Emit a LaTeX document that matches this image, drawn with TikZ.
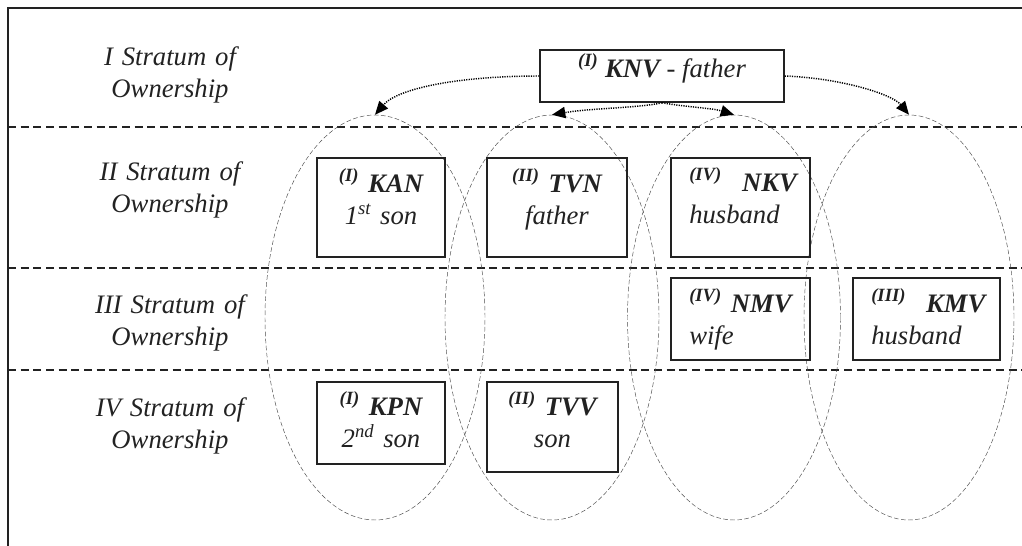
\documentclass[tikz,border=0pt]{standalone}
\usepackage{fontspec}
\setmainfont{Liberation Serif}
\usetikzlibrary{shapes.geometric,arrows.meta}
\definecolor{ink}{HTML}{222222}
\newcommand\supx[1]{\textsuperscript{\bfseries #1}}
\newcommand\supn[1]{\textsuperscript{#1}}
\begin{document}
\begin{tikzpicture}[x=0.75pt,y=-0.75pt,
  frame/.style={draw=ink,line width=1.1pt},
  stratum/.style={draw=ink,line width=0.95pt,dash pattern=on 6pt off 3.5pt},
  oval/.style={ellipse,draw=black!70,line width=0.35pt,dash pattern=on 3.5pt off 1.8pt,inner sep=0pt,minimum height=303.75pt},
  box/.style={draw=ink,line width=1.1pt,inner sep=0pt},
  txt/.style={font=\fontsize{20}{24.4}\selectfont\itshape,text=ink,inner sep=0pt},
  ctxt/.style={txt,anchor=base,align=center},
  ltxt/.style={txt,anchor=base west,align=left,text width=100pt},
  link/.style={draw=black,line width=1.1pt,dash pattern=on 0.9pt off 0.9pt,
    -{Triangle[length=10pt,width=8.5pt]}}]
\useasboundingbox (0,0) rectangle (1022,546);
% frame
\draw[frame] (8,546) -- (8,8) -- (1022,8);
% strata separators
\draw[stratum] (8,127) -- (1022,127);
\draw[stratum] (8,268) -- (1022,268);
\draw[stratum] (8,370) -- (1022,370);
% ellipses
\node[oval,minimum width=165pt] (e1) at (375,317.5) {};
\node[oval,minimum width=160.5pt] (e2) at (552,317.5) {};
\node[oval,minimum width=159.75pt] (e3) at (734,317.5) {};
\node[oval,minimum width=157.5pt] (e4) at (909,317.5) {};
% stratum labels
\node[ctxt,text width=150pt] (l1) at (170,65) {I Stratum of\\Ownership};
\node[ctxt,text width=150pt] (l2) at (170,180) {II Stratum of\\Ownership};
\node[ctxt,text width=150pt] (l3) at (170,313) {III Stratum of\\Ownership};
\node[ctxt,text width=150pt] (l4) at (170,416) {IV Stratum of\\Ownership};
% boxes
\node[box,minimum width=183pt,minimum height=39pt] (knv) at (662,76) {};
\node[box,minimum width=96pt,minimum height=74.25pt] (kan) at (381,207.5) {};
\node[box,minimum width=105pt,minimum height=74.25pt] (tvn) at (557,207.5) {};
\node[box,minimum width=104.25pt,minimum height=74.25pt] (nkv) at (740.5,207.5) {};
\node[box,minimum width=104.25pt,minimum height=61.5pt] (nmv) at (740.5,319) {};
\node[box,minimum width=110.25pt,minimum height=61.5pt] (kmv) at (926.5,319) {};
\node[box,minimum width=96pt,minimum height=61.5pt] (kpn) at (381,423) {};
\node[box,minimum width=98.25pt,minimum height=67.5pt] (tvv) at (552.5,427) {};
% box texts
\node[txt,anchor=base] (knvt) at (662,77) {\supx{(I)} \textbf{KNV} - father};
\node[ctxt,text width=96pt] (kant) at (381,192) {\supx{(I)} \textbf{KAN}\\1\supn{st} son};
\node[ctxt,text width=105pt] (tvnt) at (557,192) {\supx{(II)} \textbf{TVN}\\father};
\node[ltxt] (nkvt) at (689,191) {\supx{(IV)}\hspace{0.75em}\textbf{NKV}\\husband};
\node[ltxt] (nmvt) at (689,312) {\supx{(IV)} \textbf{NMV}\\wife};
\node[ltxt] (kmvt) at (871,312) {\supx{(III)}\hspace{0.75em}\textbf{KMV}\\husband};
\node[ctxt,text width=96pt] (kpnt) at (381,415) {\supx{(I)} \textbf{KPN}\\2\supn{nd} son};
\node[ctxt,text width=98pt] (tvvt) at (552.5,415) {\supx{(II)} \textbf{TVV}\\son};
% links
\draw[link] (knv.west) .. controls (460,76) and (398,88) .. (e1.north);
\draw[link] (knv.east) .. controls (840,78) and (892,94) .. (e4.north);
\draw[link] (knv.south) .. controls (640,108) and (592,108) .. (e2.north);
\draw[link] (knv.south) .. controls (685,107) and (712,108) .. (e3.north);
\end{tikzpicture}
\end{document}
